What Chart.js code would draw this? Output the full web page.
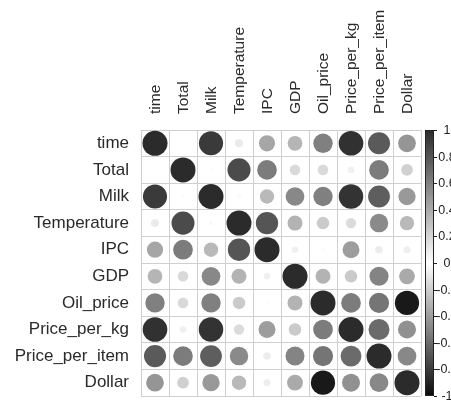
<!DOCTYPE html>
<html><head><meta charset="utf-8">
<script src="https://cdn.jsdelivr.net/npm/chart.js@4"></script>
<style>html,body{margin:0;padding:0;background:#fff;}#wrap{width:451px;height:404px;}</style>
</head><body><div id="wrap"><canvas id="c" width="451" height="404"></canvas></div>
<script>
// ---- data ----
const variables = ['time','Total','Milk','Temperature','IPC','GDP','Oil_price','Price_per_kg','Price_per_item','Dollar'];
const corrTime         = [1, 0.01, 0.93, 0.1, 0.42, 0.35, 0.6, 0.97, 0.78, 0.5];
const corrTotal        = [0.01, 1, 0.02, 0.85, 0.62, 0.18, 0.18, 0.07, 0.62, 0.22];
const corrMilk         = [0.93, 0.02, 1, 0.03, 0.33, 0.56, 0.6, 0.96, 0.76, 0.48];
const corrTemperature  = [0.1, 0.85, 0.03, 1, 0.8, 0.36, 0.25, 0.17, 0.55, 0.33];
const corrIPC          = [0.42, 0.62, 0.33, 0.8, 1, 0.07, 0.02, 0.46, 0.09, 0.08];
const corrGDP          = [0.35, 0.18, 0.56, 0.36, 0.07, 1, 0.36, 0.25, 0.58, 0.4];
const corrOilPrice     = [0.6, 0.18, 0.6, 0.25, 0.02, 0.36, 1, 0.62, 0.65, -0.94];
const corrPricePerKg   = [0.97, 0.07, 0.96, 0.17, 0.46, 0.25, 0.62, 1, 0.7, 0.52];
const corrPricePerItem = [0.78, 0.62, 0.76, 0.55, 0.09, 0.58, 0.65, 0.7, 1, 0.56];
const corrDollar       = [0.5, 0.22, 0.48, 0.33, 0.08, 0.4, -0.94, 0.52, 0.56, 1];
const colorbarTicks = [1, 0.8, 0.6, 0.4, 0.2, 0, -0.2, -0.4, -0.6, -0.8, -1];

const corrRows = [corrTime, corrTotal, corrMilk, corrTemperature, corrIPC, corrGDP,
                  corrOilPrice, corrPricePerKg, corrPricePerItem, corrDollar];

const points = [];
corrRows.forEach((row, i) => row.forEach((v, j) => {
  points.push({x: variables[j], y: variables[i], v: v});
}));

const POS_END = 43, NEG_END = 10;
function grayFor(v) {
  const g = v >= 0 ? Math.round(255 - v * (255 - POS_END)) : Math.round(255 + v * (255 - NEG_END));
  return `rgb(${g},${g},${g})`;
}

const FONT = "'Liberation Sans', Arial, sans-serif";

function cellRadius(c) {
  const a = c.chart.chartArea;
  const raw = c.raw || points[c.dataIndex];
  if (!a || !raw) return 0;
  const cw = (a.right - a.left) / variables.length;
  const ch = (a.bottom - a.top) / variables.length;
  return 0.47 * Math.min(cw, ch) * Math.sqrt(Math.abs(raw.v));
}
function cellColor(c) {
  const raw = c.raw || points[c.dataIndex];
  return raw ? grayFor(raw.v) : '#000';
}

const colorbarPlugin = {
  id: 'colorbar',
  afterDraw(chart) {
    const ctx = chart.ctx, s = chart.scales.cb, area = chart.chartArea;
    const x0 = area.right + 4, w = 9;
    const top = s.getPixelForValue(1), bot = s.getPixelForValue(-1);
    const grad = ctx.createLinearGradient(0, top, 0, bot);
    grad.addColorStop(0, grayFor(1));
    grad.addColorStop(0.5, grayFor(0));
    grad.addColorStop(1, grayFor(-1));
    ctx.save();
    ctx.fillStyle = grad;
    ctx.fillRect(x0, top, w, bot - top);
    ctx.strokeStyle = '#222';
    ctx.lineWidth = 1;
    ctx.strokeRect(x0 + 0.5, top + 0.5, w - 1, bot - top - 1);
    ctx.font = `12.5px ${FONT}`;
    ctx.fillStyle = '#222';
    ctx.textAlign = 'center';
    ctx.textBaseline = 'middle';
    colorbarTicks.forEach(t => {
      const y = Math.round(s.getPixelForValue(t)) + 0.5;
      ctx.beginPath();
      ctx.moveTo(x0 + w, y);
      ctx.lineTo(x0 + w + 3, y);
      ctx.stroke();
      ctx.fillText(String(t), x0 + w + 13, y);
    });
    ctx.restore();
  }
};

new Chart(document.getElementById('c'), {
  type: 'scatter',
  data: {
    datasets: [{
      data: points,
      showLine: false,
      pointBackgroundColor: cellColor,
      pointBorderColor: cellColor,
      pointBorderWidth: 0,
      pointRadius: cellRadius,
      clip: false
    }]
  },
  options: {
    responsive: false,
    devicePixelRatio: 1,
    animation: false,
    events: [],
    layout: {autoPadding: false, padding: {top: 0, right: 30, bottom: 8, left: 0}},
    plugins: {legend: {display: false}, tooltip: {enabled: false}},
    scales: {
      x: {
        type: 'category', labels: variables, position: 'top', offset: true,
        grid: {offset: true, color: '#cfcfcf', drawTicks: false},
        border: {color: '#cfcfcf'},
        ticks: {minRotation: 90, maxRotation: 90, padding: 16, autoSkip: false, labelOffset: 19,
                color: '#2a2a2a', font: {family: FONT, size: 15.5}},
        afterFit: s => { s.height = 130; s.paddingLeft = 0; s.paddingRight = 0; }
      },
      y: {
        type: 'category', labels: variables, position: 'left', offset: true,
        grid: {offset: true, color: '#cfcfcf', drawTicks: false},
        border: {color: '#cfcfcf'},
        ticks: {padding: 12, autoSkip: false, color: '#2a2a2a', font: {family: FONT, size: 17}},
        afterFit: s => { s.width = 141; s.paddingTop = 0; s.paddingBottom = 0; }
      },
      cb: {
        type: 'linear', position: 'right', min: -1, max: 1, display: false
      }
    }
  },
  plugins: [colorbarPlugin]
});
</script></body></html>
